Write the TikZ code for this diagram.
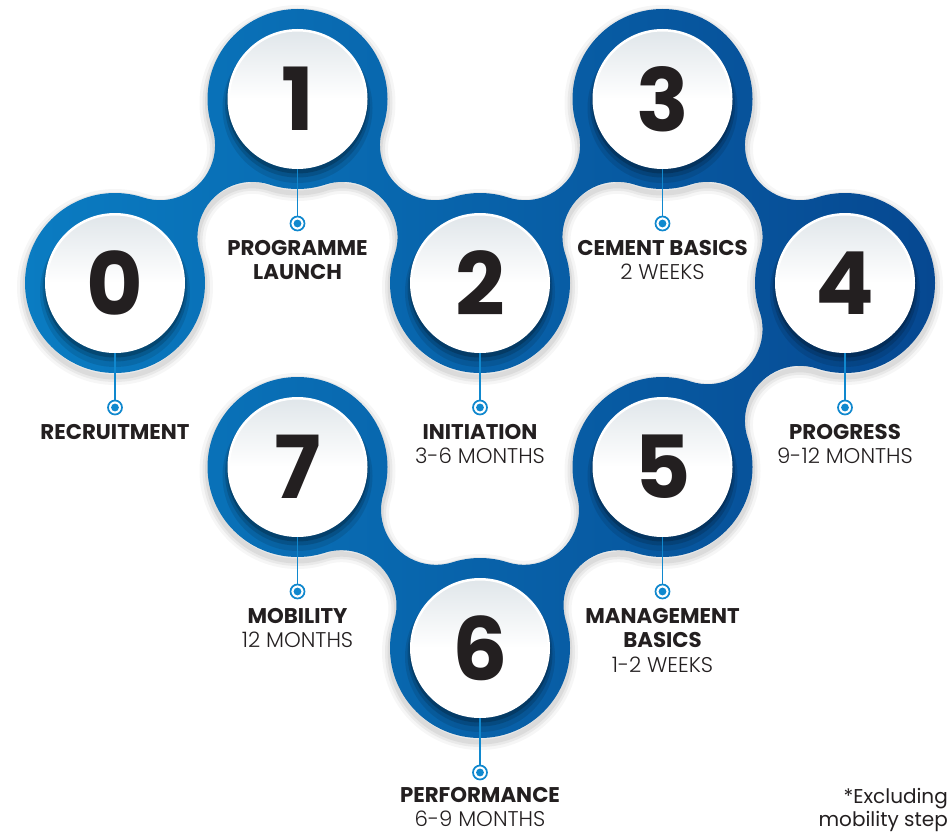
\documentclass[tikz,border=0pt]{standalone}
\usepackage{fontspec}
\setmainfont{Poppins}
\IfFontExistsTF{Poppins Light}{\newfontfamily\lightfont{Poppins Light}}{\newfontfamily\lightfont{Poppins}}
\usetikzlibrary{calc}
\definecolor{blueL}{RGB}{10,124,194}
\definecolor{blueR}{RGB}{6,72,145}
\definecolor{lineblue}{RGB}{16,136,206}
\definecolor{txt}{RGB}{35,31,32}
\definecolor{topgray}{RGB}{224,230,234}
% bridge between two circles: mid x, mid y, direction angle, fillet centre offset, tangent angle
\newcommand\bridge[5]{($(#1,#2)+(#3-90:#4)+(#3+180-#5:55)$)
  arc[start angle=#3+180-#5, end angle=#3+#5, radius=55]
  arc[start angle=#3+180+#5, end angle=#3+180-#5, radius=90]
  arc[start angle=#3-#5, end angle=#3-180+#5, radius=55]
  arc[start angle=#3+#5, end angle=#3-#5, radius=90] -- cycle}
\newcommand\blobpath{(115,283) circle[radius=90] (297.5,99) circle[radius=90]
  (480,283) circle[radius=90] (662.5,99) circle[radius=90]
  (845,283) circle[radius=90] (662.5,467) circle[radius=90]
  (480,648) circle[radius=90] (297.5,467) circle[radius=90]
  \bridge{206.25}{191}{-45.23}{65.07}{26.66}
  \bridge{388.75}{191}{45.23}{65.07}{26.66}
  \bridge{571.25}{191}{-45.23}{65.07}{26.66}
  \bridge{753.75}{191}{45.23}{65.07}{26.66}
  \bridge{753.75}{375}{-45.23}{65.07}{26.66}
  \bridge{571.25}{557.5}{-44.76}{67.14}{27.58}
  \bridge{388.75}{557.5}{44.76}{67.14}{27.58}}
\begin{document}
\begin{tikzpicture}[x=1pt,y=-1pt,
  numc/.style={circle, inner sep=0pt, minimum size=137.5pt, top color=topgray, bottom color=white, middle color=white, draw=white, line width=2.5pt, text=txt, font=\bfseries\fontsize{87}{87}\selectfont},
  mk/.style={circle, draw=lineblue, line width=1.7pt, fill=white, inner sep=0pt, minimum size=14pt, path picture={\fill[lineblue] (path picture bounding box.center) circle[radius=3.9pt];}},
  lead/.style={draw=lineblue, line width=1.6pt},
  lb/.style={font=\bfseries\fontsize{21.3}{21.3}\selectfont, text=txt, inner sep=0pt, anchor=base},
  ll/.style={font=\lightfont\fontsize{21.3}{21.3}\selectfont, text=txt, inner sep=0pt, anchor=base},
  fn/.style={font=\fontsize{20}{20}\selectfont, text=txt, inner sep=0pt, anchor=base east}]
\useasboundingbox (0,0) rectangle (949,832);
% soft shadow of the blue shape
\begin{scope}[yshift=-4pt]
  \draw[line width=16pt, black, opacity=0.035] \blobpath;
  \draw[line width=10pt, black, opacity=0.05] \blobpath;
  \draw[line width=5pt, black, opacity=0.06] \blobpath;
\end{scope}
% blue shape
\shade[left color=blueL, right color=blueR] \blobpath;
% centres
\coordinate (p0) at (115,283);
\coordinate (p1) at (297.5,99);
\coordinate (p2) at (480,283);
\coordinate (p3) at (662.5,99);
\coordinate (p4) at (845,283);
\coordinate (p5) at (662.5,467);
\coordinate (p6) at (480,648);
\coordinate (p7) at (297.5,467);
% shadows of the white discs
\foreach \p in {p0,p1,p2,p3,p4,p5,p6,p7}{
  \fill[black, opacity=0.10] ($(\p)+(0,9)$) circle[radius=75];
  \fill[black, opacity=0.15] ($(\p)+(0,6)$) circle[radius=72.5];
  \fill[black, opacity=0.20] ($(\p)+(0,4)$) circle[radius=70.5];
}
% white discs with numbers
\node[numc] (n0) at (p0) {0};
\node[numc] (n1) at (p1) {1};
\node[numc] (n2) at (p2) {2};
\node[numc] (n3) at (p3) {3};
\node[numc] (n4) at (p4) {4};
\node[numc] (n5) at (p5) {5};
\node[numc] (n6) at (p6) {6};
\node[numc] (n7) at (p7) {7};
% markers
\node[mk] (m0) at (115,407.5) {};
\node[mk] (m1) at (297.5,223.5) {};
\node[mk] (m2) at (480,407.5) {};
\node[mk] (m3) at (662.5,223.5) {};
\node[mk] (m4) at (845,407.5) {};
\node[mk] (m5) at (662.5,591.5) {};
\node[mk] (m6) at (480,772.5) {};
\node[mk] (m7) at (297.5,591.5) {};
\draw[lead] (n0.south) -- (m0.north);
\draw[lead] (n1.south) -- (m1.north);
\draw[lead] (n2.south) -- (m2.north);
\draw[lead] (n3.south) -- (m3.north);
\draw[lead] (n4.south) -- (m4.north);
\draw[lead] (n5.south) -- (m5.north);
\draw[lead] (n6.south) -- (m6.north);
\draw[lead] (n7.south) -- (m7.north);
% labels
\node[lb] (t0a) at (115,439) {RECRUITMENT};
\node[lb] (t1a) at (297.5,255) {PROGRAMME};
\node[lb] (t1b) at (297.5,279.5) {LAUNCH};
\node[lb] (t2a) at (480,439) {INITIATION};
\node[ll] (t2b) at (480,463.5) {3-6 MONTHS};
\node[lb] (t3a) at (662.5,255) {CEMENT BASICS};
\node[ll] (t3b) at (662.5,279.5) {2 WEEKS};
\node[lb] (t4a) at (845,439) {PROGRESS};
\node[ll] (t4b) at (845,463.5) {9-12 MONTHS};
\node[lb] (t5a) at (662.5,623) {MANAGEMENT};
\node[lb] (t5b) at (662.5,647.5) {BASICS};
\node[ll] (t5c) at (662.5,672) {1-2 WEEKS};
\node[lb] (t6a) at (480,802) {PERFORMANCE};
\node[ll] (t6b) at (480,826) {6-9 MONTHS};
\node[lb] (t7a) at (297.5,623) {MOBILITY};
\node[ll] (t7b) at (297.5,647.5) {12 MONTHS};
\node[fn] (f1) at (948,803) {*Excluding};
\node[fn] (f2) at (948,826) {mobility step};
\end{tikzpicture}
\end{document}
